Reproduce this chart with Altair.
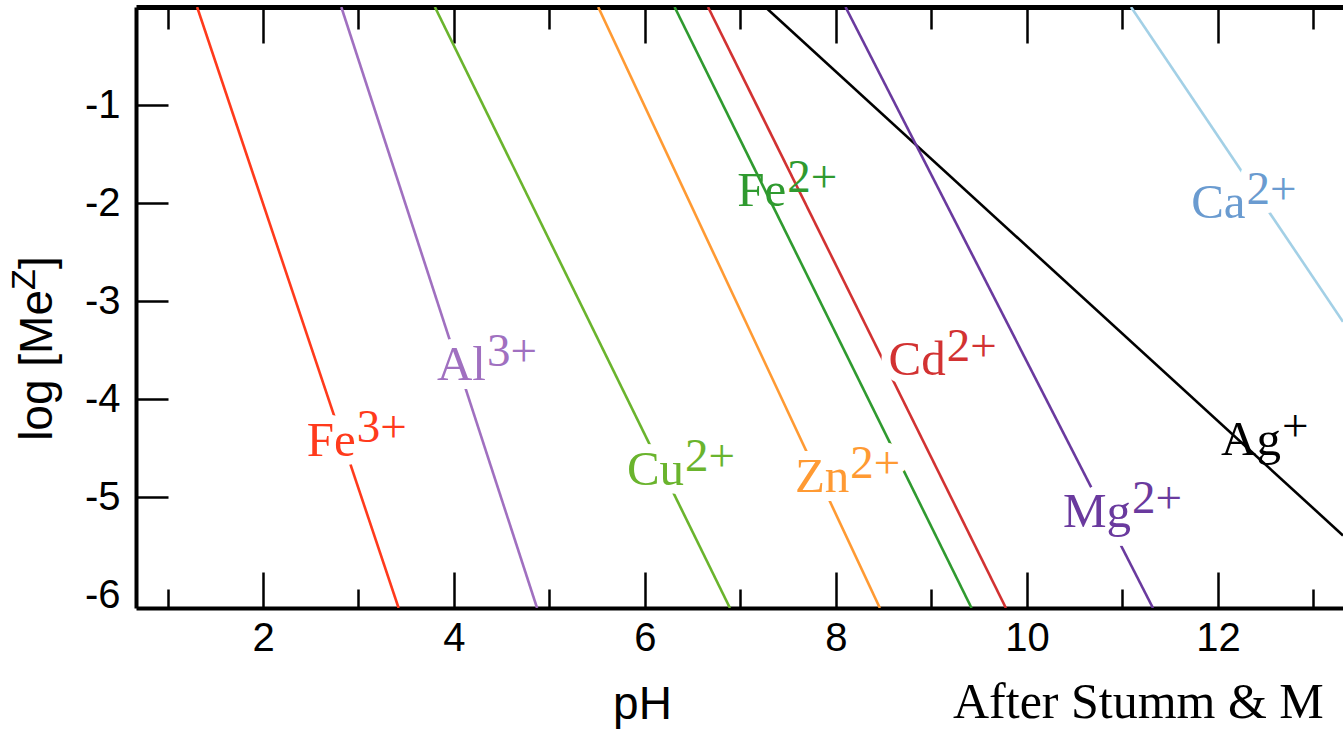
import altair as alt
import pandas as pd

# ---- data ----
ions = ["Fe3+", "Al3+", "Cu2+", "Zn2+", "Fe2+", "Cd2+", "Ag+", "Mg2+", "Ca2+"]
ph_start = [1.31, 2.82, 3.80, 5.51, 6.31, 6.66, 7.26, 8.10, 11.09]
log_start = [0.0, 0.0, 0.0, 0.0, 0.0, 0.0, 0.0, 0.0, 0.0]
ph_end = [3.42, 4.87, 6.89, 8.46, 9.42, 9.78, 13.31, 11.32, 13.31]
log_end = [-6.13, -6.13, -6.13, -6.13, -6.13, -6.13, -5.39, -6.13, -3.21]
line_colors = ["#ff3a1c", "#a070c0", "#6ab42d", "#ff9a33", "#2f9a2f",
               "#d23232", "#000000", "#6a3a9e", "#a3d0e6"]

label_base = ["Fe", "Al", "Cu", "Zn", "Fe", "Cd", "Ag", "Mg", "Ca"]
label_sup = ["3+", "3+", "2+", "2+", "2+", "2+", "+", "2+", "2+"]
label_ph = [2.97, 4.335, 6.41, 8.14, 7.48, 9.15, 12.66, 11.09, 12.29]
label_log = [-4.58, -3.80, -4.88, -4.95, -2.03, -3.75, -4.57, -5.30, -2.15]
label_colors = ["#ff3a1c", "#a070c0", "#6ab42d", "#ff9a33", "#2f9a2f",
                "#d23232", "#000000", "#6a3a9e", "#6a9bd0"]
label_gap = [True, True, True, True, False, True, False, True, True]

x_ticks_major = [2, 4, 6, 8, 10, 12]
x_ticks_minor = [1, 3, 5, 7, 9, 11, 13]
y_ticks = [-6, -5, -4, -3, -2, -1]
y_inner_ticks = [-5, -4, -3, -2, -1]

x_domain = [0.67, 13.31]
y_domain = [-6.13, 0.0]

# ---- tables ----
rows = []
for i, ion in enumerate(ions):
    rows.append({"ion": ion, "order": 0, "pH": ph_start[i], "logc": log_start[i], "color": line_colors[i]})
    rows.append({"ion": ion, "order": 1, "pH": ph_end[i], "logc": log_end[i], "color": line_colors[i]})
lines_df = pd.DataFrame(rows)

labels_df = pd.DataFrame({
    "ion": ions, "base": label_base, "sup": label_sup,
    "pH": label_ph, "logc": label_log, "color": label_colors, "gap": label_gap,
})
gap_df = labels_df[labels_df["gap"]]

XS = alt.Scale(domain=x_domain, nice=False, zero=False)
YS = alt.Scale(domain=y_domain, nice=False, zero=False)

SANS = "Liberation Sans"
SERIF = "Liberation Serif"
BASE_SIZE = 49
SUP_SIZE = 47
SUP_DY = -14

lines = alt.Chart(lines_df).mark_line(strokeWidth=2.6, clip=True).encode(
    x=alt.X("pH:Q", scale=XS, axis=alt.Axis(
        values=x_ticks_major, ticks=False, grid=False, domainWidth=4, domainColor="black",
        labelFont=SANS, labelFontSize=40, labelColor="black", labelPadding=10,
        title="pH", titleFont=SANS, titleFontSize=46, titleFontWeight="normal",
        titleColor="black", titleX=506, titleY=110, titleBaseline="alphabetic",
        titleAlign="center")),
    y=alt.Y("logc:Q", scale=YS, axis=alt.Axis(
        values=y_ticks, ticks=False, grid=False, domainWidth=4, domainColor="black",
        labelFont=SANS, labelFontSize=40, labelColor="black", labelPadding=16,
        labelExpr="'' + datum.value", title=None)),
    color=alt.Color("color:N", scale=None),
    detail="ion:N",
    order="order:Q",
)

NOAX_X = alt.X("pH:Q", scale=XS, axis=None)
NOAX_Y = alt.Y("logc:Q", scale=YS, axis=None)

halo_base = alt.Chart(gap_df).mark_text(
    font=SERIF, fontSize=BASE_SIZE, align="right", baseline="alphabetic",
    fill="white", stroke="white", strokeWidth=18, strokeJoin="round",
).encode(x=NOAX_X, y=NOAX_Y, text="base:N")
halo_sup = alt.Chart(gap_df).mark_text(
    font=SERIF, fontSize=SUP_SIZE, align="left", baseline="alphabetic", dx=1, dy=SUP_DY,
    fill="white", stroke="white", strokeWidth=18, strokeJoin="round",
).encode(x=NOAX_X, y=NOAX_Y, text="sup:N")

text_base = alt.Chart(labels_df).mark_text(
    font=SERIF, fontSize=BASE_SIZE, align="right", baseline="alphabetic",
).encode(x=NOAX_X, y=NOAX_Y, text="base:N", color=alt.Color("color:N", scale=None))
text_sup = alt.Chart(labels_df).mark_text(
    font=SERIF, fontSize=SUP_SIZE, align="left", baseline="alphabetic", dx=1, dy=SUP_DY,
).encode(x=NOAX_X, y=NOAX_Y, text="sup:N", color=alt.Color("color:N", scale=None))


def tick_layer(values, orient, length):
    df = pd.DataFrame({"v": values})
    return alt.Chart(df).mark_point(opacity=0).encode(
        x=alt.X("v:Q", scale=XS, axis=alt.Axis(
            orient=orient, values=values, offset=-length, tickSize=length,
            tickWidth=2.5, tickColor="black", domain=False, labels=False,
            grid=False, title=None)),
    )


bot_major = tick_layer(x_ticks_major, "bottom", 36)
bot_minor = tick_layer(x_ticks_minor, "bottom", 19)
top_major = tick_layer(x_ticks_major, "top", 36)
top_minor = tick_layer(x_ticks_minor, "top", 22)

top_domain = alt.Chart(pd.DataFrame({"v": [x_domain[0]]})).mark_point(opacity=0).encode(
    x=alt.X("v:Q", scale=XS, axis=alt.Axis(
        orient="top", ticks=False, labels=False, grid=False, domainWidth=5,
        domainColor="black", title=None)),
)

y_tick_layer = alt.Chart(pd.DataFrame({"v": y_inner_ticks})).mark_point(opacity=0).encode(
    y=alt.Y("v:Q", scale=YS, axis=alt.Axis(
        orient="left", values=y_inner_ticks, offset=-32, tickSize=32,
        tickWidth=2.5, tickColor="black", domain=False, labels=False,
        grid=False, title=None)),
)

one = pd.DataFrame({"a": [0]})
ytitle1 = alt.Chart(one).mark_text(
    text="log [Me", angle=270, font=SANS, fontSize=46, align="right",
    baseline="alphabetic", color="black",
).encode(x=alt.value(-84), y=alt.value(283))
ytitle2 = alt.Chart(one).mark_text(
    text="Z", angle=270, font=SANS, fontSize=34, align="left",
    baseline="alphabetic", dy=-17, color="black",
).encode(x=alt.value(-84), y=alt.value(283))
ytitle3 = alt.Chart(one).mark_text(
    text="]", angle=270, font=SANS, fontSize=46, align="left",
    baseline="alphabetic", dx=21, color="black",
).encode(x=alt.value(-84), y=alt.value(283))

credit = alt.Chart(one).mark_text(
    text="After Stumm & M", font=SERIF, fontSize=50, align="left",
    baseline="alphabetic", color="black",
).encode(x=alt.value(817), y=alt.value(711))

chart = alt.layer(
    lines, halo_base, halo_sup, text_base, text_sup,
    bot_major, bot_minor, top_major, top_minor, top_domain, y_tick_layer,
    ytitle1, ytitle2, ytitle3, credit,
).resolve_axis(x="independent", y="independent").properties(
    width=1207, height=601,
    autosize=alt.AutoSizeParams(type="none"),
    padding={"left": 136, "top": 7, "right": 0, "bottom": 123},
    background="white",
).configure_view(stroke=None)

chart.save("out.html", embed_options={"renderer": "svg", "actions": False})
